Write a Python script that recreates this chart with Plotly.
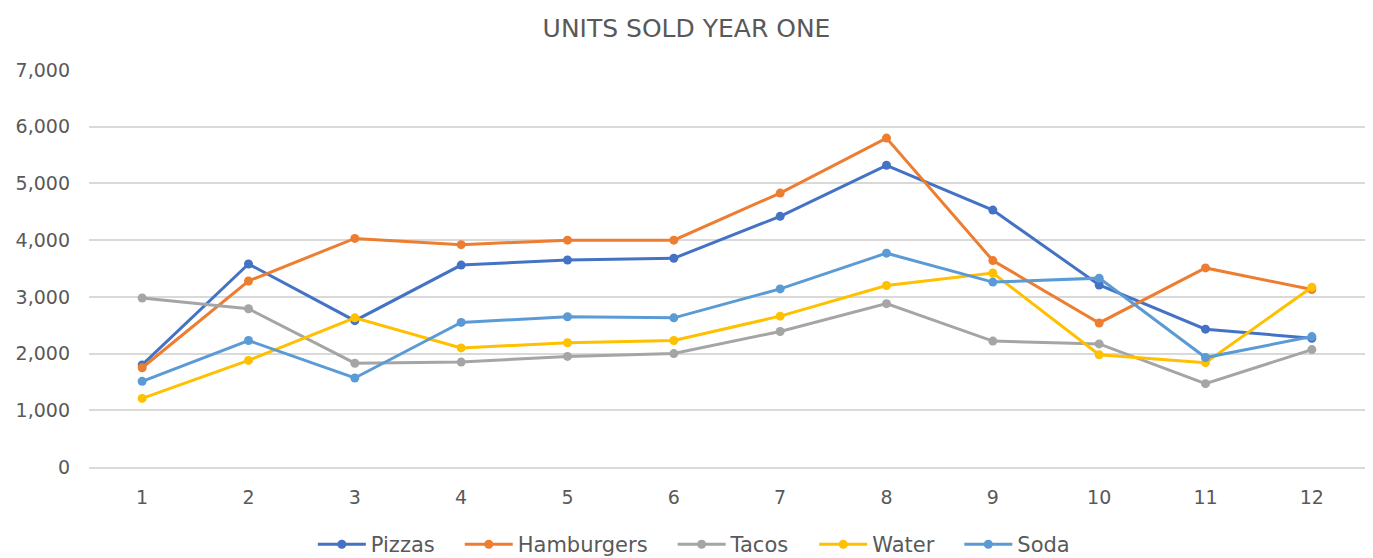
import plotly.graph_objects as go

months = ["1", "2", "3", "4", "5", "6", "7", "8", "9", "10", "11", "12"]
pizzas = [1800, 3580, 2580, 3560, 3650, 3680, 4420, 5320, 4530, 3210, 2430, 2270]
hamburgers = [1750, 3280, 4030, 3920, 4000, 4000, 4830, 5800, 3640, 2540, 3510, 3130]
tacos = [2980, 2790, 1830, 1850, 1950, 2000, 2390, 2880, 2220, 2170, 1470, 2070]
water = [1210, 1880, 2630, 2100, 2190, 2230, 2660, 3200, 3420, 1980, 1840, 3170]
soda = [1510, 2230, 1570, 2550, 2650, 2630, 3140, 3770, 3260, 3330, 1930, 2300]

series = [
    ("Pizzas", pizzas, "#4472C4"),
    ("Hamburgers", hamburgers, "#ED7D31"),
    ("Tacos", tacos, "#A5A5A5"),
    ("Water", water, "#FFC000"),
    ("Soda", soda, "#5B9BD5"),
]

font_family = "'DejaVu Sans', sans-serif"
text_color = "#595959"

fig = go.Figure()
for i, (name, vals, color) in enumerate(series):
    pad = "" if i == len(series) - 1 else "\u00a0\u00a0\u00a0"
    fig.add_trace(go.Scatter(
        x=months, y=vals, name=name + pad, mode="lines+markers",
        line=dict(color=color, width=3),
        marker=dict(color=color, size=9),
    ))

fig.update_layout(
    width=1373, height=558,
    paper_bgcolor="white", plot_bgcolor="white",
    margin=dict(l=89, r=8, t=70, b=91, autoexpand=False),
    title=dict(text="UNITS SOLD YEAR ONE", x=0.5, xanchor="center", y=0.95, yanchor="middle",
               font=dict(family=font_family, size=25, color=text_color)),
    font=dict(family=font_family, size=19, color=text_color),
    xaxis=dict(type="category", range=[-0.5, 11.5], showgrid=False, showline=True,
               linecolor="#D9D9D9", linewidth=1.5,
               ticks="", automargin=False, ticklabelstandoff=12,
               tickfont=dict(family=font_family, size=19, color=text_color)),
    yaxis=dict(range=[0, 7000], dtick=1000, tickformat=",", showgrid=True, gridcolor="#D9D9D9",
               gridwidth=1.5, zeroline=False, showline=False, ticks="", automargin=False,
               ticklabelstandoff=18,
               tickfont=dict(family=font_family, size=19, color=text_color)),
    legend=dict(orientation="h", x=0.474, xanchor="center", yref="container", y=0.024,
                yanchor="middle", itemwidth=48,
                font=dict(family=font_family, size=21, color=text_color), traceorder="normal"),
)

fig.write_html("out.html", post_script="document.body.style.margin='0';",
               config={"displayModeBar": False})
